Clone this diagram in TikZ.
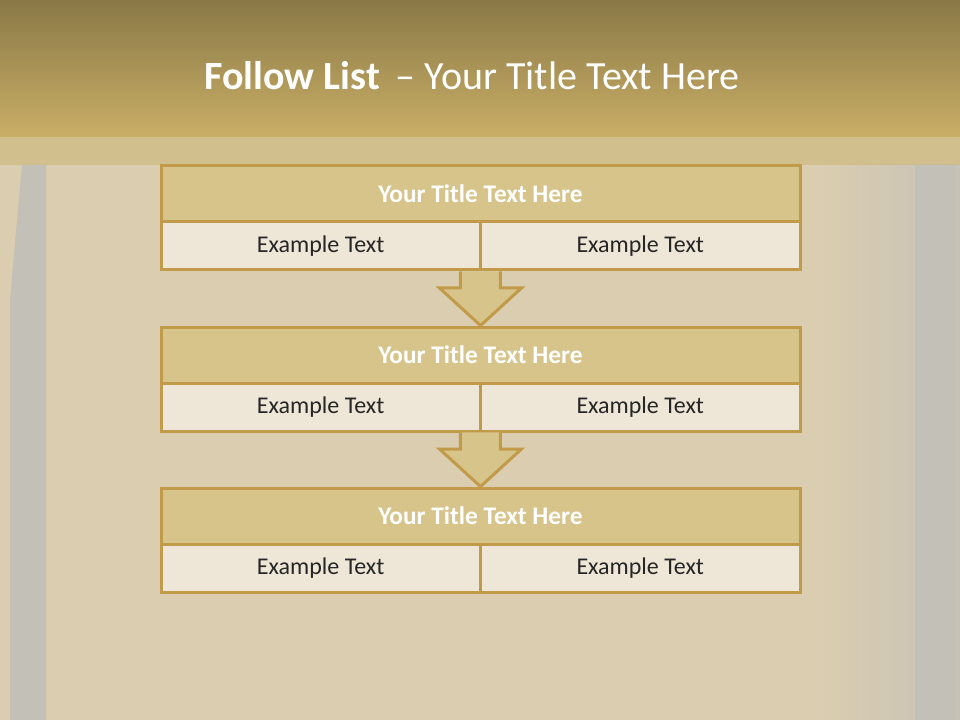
\documentclass[tikz,border=0pt]{standalone}
\usepackage{fontspec}
\setmainfont{Carlito}
\usepackage{tikz}
\usetikzlibrary{positioning, calc}

\definecolor{gold}{HTML}{C29B4A}
\definecolor{titlefill}{HTML}{D7C48B}
\definecolor{cellfill}{HTML}{EEE6D6}
\definecolor{bannertop}{HTML}{8A7947}
\definecolor{bannerbot}{HTML}{C9AE66}
\definecolor{wallbg}{HTML}{DACDB0}
\definecolor{wallbar}{HTML}{C3C0B7}

\tikzset{
  headrow/.style={draw=gold, line width=2.25pt, fill=titlefill, outer sep=0pt,
    minimum width=479.25pt, minimum height=42pt, inner sep=0pt,
    font=\bfseries\fontsize{19}{23}\selectfont, text=white},
  cellrow/.style={draw=gold, line width=2.25pt, fill=cellfill, outer sep=0pt,
    minimum width=239.6pt, minimum height=36pt, inner sep=0pt,
    font=\fontsize{18}{22}\selectfont, text=black!85},
  downarrow/.style={draw=gold, line width=2.25pt, fill=titlefill, line join=miter}
}

\begin{document}
\begin{tikzpicture}[x=0.75pt, y=-0.75pt]
  \useasboundingbox (0,0) rectangle (960,720);
  % wall background
  \fill[wallbg] (0,0) rectangle (960,720);
  \shade[left color=wallbg, right color=wallbar!80!wallbg] (820,165) rectangle (960,720);
  \fill[wallbar] (22,165) -- (46,165) -- (46,720) -- (10,720) -- (10,300) -- cycle;
  \fill[wallbar] (915,165) rectangle (956,720);
  \fill[bannerbot, opacity=0.45] (0,137) rectangle (960,165);
  % banner
  \shade[top color=bannertop, bottom color=bannerbot] (0,0) rectangle (960,137);
  \node[text=white, font=\fontsize{30}{36}\selectfont] (title) at (472,76)
    {\textbf{Follow List}\, – Your Title Text Here};
  % blocks
  \foreach \i/\y in {1/194, 2/355, 3/516} {
    \node[headrow] (t\i) at (480.5,\y) {Your Title Text Here};
    \node[cellrow, anchor=north west] (l\i) at (t\i.south west) {Example Text};
    \node[cellrow, anchor=north east] (r\i) at (t\i.south east) {Example Text};
  }
  % arrows between blocks
  \foreach \i/\j in {1/2, 2/3} {
    \draw[downarrow] let \p1=(l\i.south east), \p2=(t\j.north) in
      (\x1-15pt,\y1-1.1pt) -- (\x1-15pt,\y1-13.5pt) -- (\x1-30.75pt,\y1-13.5pt)
      -- (\x2,\y2+1.1pt) -- (\x1+30.75pt,\y1-13.5pt) -- (\x1+15pt,\y1-13.5pt)
      -- (\x1+15pt,\y1-1.1pt);
  }
\end{tikzpicture}
\end{document}
